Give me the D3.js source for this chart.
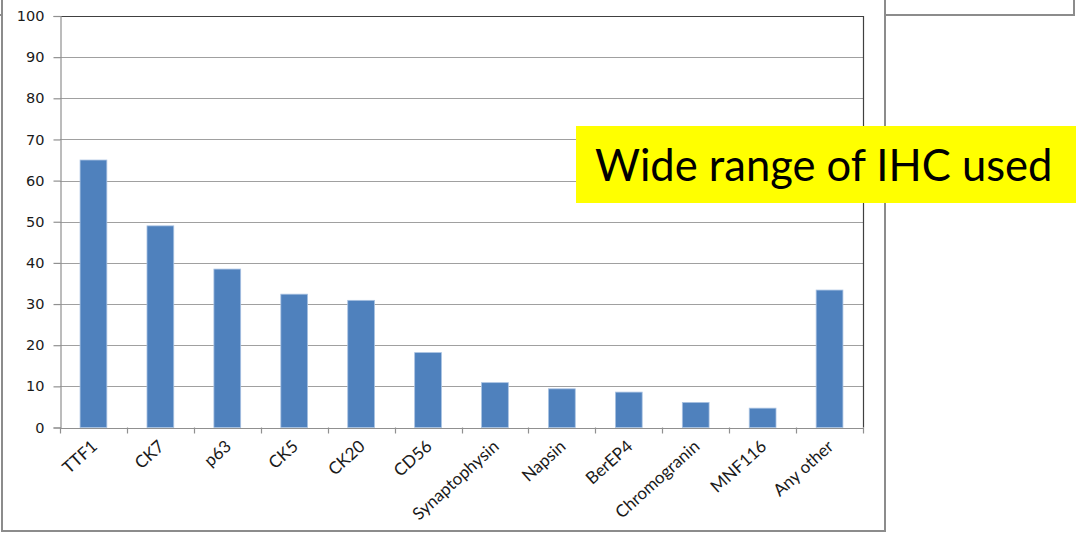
<!DOCTYPE html>
<html>
<head>
<meta charset="utf-8">
<script src="https://cdn.jsdelivr.net/npm/d3@7"></script>
<style>
  html, body { margin: 0; padding: 0; background: #fff; }
  svg { display: block; }
</style>
</head>
<body>
<svg id="chart" width="1076" height="533"></svg>
<script>
// IHC markers used and the percentage of respondents using each
const categories = ["TTF1", "CK7", "p63", "CK5", "CK20", "CD56", "Synaptophysin",
                    "Napsin", "BerEP4", "Chromogranin", "MNF116", "Any other"];
const values = [65, 49, 38.5, 32.4, 30.9, 18.2, 10.9, 9.4, 8.6, 6.1, 4.7, 33.4];
const yTicks = [0, 10, 20, 30, 40, 50, 60, 70, 80, 90, 100];
const callout = "Wide range of IHC used";

const svg = d3.select("#chart");
const plot = { left: 60, right: 863, top: 16, bottom: 427.5 };

// outer slide frames
const frame = svg.append("g").attr("fill", "none").attr("stroke", "#8c8c8c").attr("stroke-width", 2);
frame.append("path").attr("d", "M2,0 V531 H885 V0");
frame.append("path").attr("d", "M885,15 H1074 V0");
frame.append("path").attr("d", "M0,15 H3");

const x = d3.scaleBand().domain(categories).range([plot.left, plot.right]).paddingInner(0.6).paddingOuter(0.3);
const xEdges = d3.scaleLinear().domain([0, categories.length]).range([plot.left, plot.right]);
const y = d3.scaleLinear().domain([0, 100]).range([plot.bottom, plot.top]);

// horizontal gridlines
svg.append("g")
  .selectAll("line")
  .data(yTicks.filter(t => t > 0 && t < 100))
  .join("line")
  .attr("x1", plot.left).attr("x2", plot.right)
  .attr("y1", d => Math.round(y(d)) + 0.5).attr("y2", d => Math.round(y(d)) + 0.5)
  .attr("stroke", "#a0a0a0").attr("stroke-width", 1.2);

// plot border (top and right darker, left gray)
svg.append("line").attr("x1", plot.left).attr("x2", plot.right)
  .attr("y1", Math.round(y(100)) + 0.5).attr("y2", Math.round(y(100)) + 0.5)
  .attr("stroke", "#404040").attr("stroke-width", 1.2);
svg.append("line").attr("x1", plot.right + 0.5).attr("x2", plot.right + 0.5)
  .attr("y1", y(100)).attr("y2", y(0))
  .attr("stroke", "#404040").attr("stroke-width", 1.2);

// y axis
const yAxis = d3.axisLeft(y).tickValues(yTicks).tickSize(7).tickPadding(9);
const gy = svg.append("g").attr("transform", `translate(${plot.left + 0.5},0)`).call(yAxis);
gy.select(".domain").attr("stroke", "#909090").attr("stroke-width", 1.2);
gy.selectAll(".tick line").attr("stroke", "#909090").attr("stroke-width", 1.2);
gy.selectAll(".tick text")
  .attr("font-family", "DejaVu Sans, Verdana, sans-serif")
  .attr("font-size", 14.5)
  .attr("fill", "#1a1a1a");

// bars
svg.append("g")
  .selectAll("rect")
  .data(values)
  .join("rect")
  .attr("x", (d, i) => x(categories[i]))
  .attr("width", x.bandwidth())
  .attr("y", d => y(d))
  .attr("height", d => y(0) - y(d))
  .attr("fill", "#4f81bd")
  .attr("stroke", "#a9c2e2")
  .attr("stroke-width", 0.8);

// x axis baseline and ticks at category boundaries
svg.append("line").attr("x1", plot.left).attr("x2", plot.right + 1)
  .attr("y1", Math.round(y(0)) + 0.5).attr("y2", Math.round(y(0)) + 0.5)
  .attr("stroke", "#909090").attr("stroke-width", 1.2);
svg.append("g")
  .selectAll("line")
  .data(d3.range(categories.length + 1))
  .join("line")
  .attr("x1", d => Math.round(xEdges(d)) + 0.5).attr("x2", d => Math.round(xEdges(d)) + 0.5)
  .attr("y1", y(0)).attr("y2", y(0) + 6)
  .attr("stroke", "#909090").attr("stroke-width", 1.2);

// rotated category labels
svg.append("g")
  .selectAll("text")
  .data(categories)
  .join("text")
  .attr("transform", d => `translate(${x(d) + x.bandwidth() / 2 + 5},448) rotate(-42)`)
  .attr("text-anchor", "end")
  .attr("font-family", "Lato, 'Open Sans', sans-serif")
  .attr("font-size", 17)
  .attr("fill", "#1a1a1a")
  .text(d => d);

// callout box
const box = svg.append("g");
box.append("rect").attr("x", 576).attr("y", 126).attr("width", 500).attr("height", 77).attr("fill", "#ffff00");
box.append("text").attr("x", 595).attr("y", 181)
  .attr("font-family", "Lato, 'Open Sans', sans-serif")
  .attr("font-size", 43.5)
  .attr("fill", "#000")
  .text(callout);
</script>
</body>
</html>
